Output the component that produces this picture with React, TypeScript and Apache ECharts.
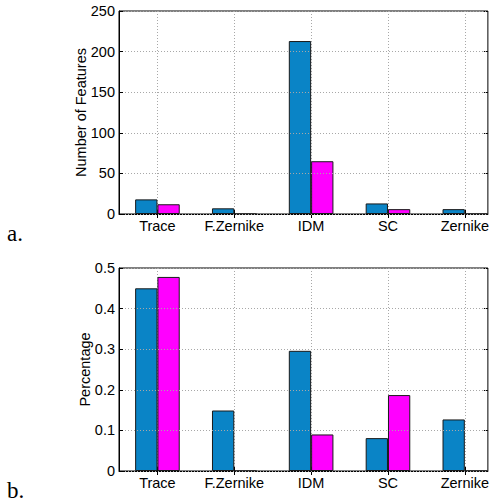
import React, { useEffect, useRef } from "react";
import * as echarts from "echarts";

const categories = ["Trace", "F.Zernike", "IDM", "SC", "Zernike"];
const countBlue = [18, 7, 213, 13, 6];
const countMagenta = [12, 0, 65, 6, 0];
const pctBlue = [0.45, 0.149, 0.296, 0.081, 0.127];
const pctMagenta = [0.478, 0, 0.09, 0.187, 0];
const catPositions = [1, 2, 3, 4, 5];
const panelLabels = ["a.", "b."];

const BLUE = "#0a84c6";
const MAGENTA = "#ff00ff";
const FONT = "'Liberation Sans', Arial, sans-serif";

function xy(vals: number[]) {
  return vals.map((v, i) => [catPositions[i], v]);
}

export default function App() {
  const ref = useRef<HTMLDivElement>(null);
  useEffect(() => {
    if (!ref.current) return;
    const chart = echarts.init(ref.current, null, { renderer: "svg" });
    const grid = (top: number) => ({
      left: 119,
      top,
      width: 372,
      height: 203,
      show: true,
      borderColor: "#000",
      borderWidth: 1,
      backgroundColor: "transparent",
    });
    const xMain = (gridIndex: number) => ({
      type: "value",
      gridIndex,
      min: 0.5,
      max: 5.3,
      position: "bottom",
      axisLine: { show: true, onZero: false, lineStyle: { color: "#000", width: 1 } },
      axisTick: { show: true, inside: true, length: 4, customValues: catPositions, lineStyle: { color: "#000" } },
      axisLabel: {
        show: true,
        customValues: catPositions,
        formatter: (v: number) => categories[Math.round(v) - 1] ?? "",
        color: "#000",
        fontFamily: FONT,
        fontSize: 14.5,
        margin: 4,
      },
      splitLine: { show: true, lineStyle: { color: "#a8a8a8", type: [1, 2], width: 1 } },
    });
    const xMirror = (gridIndex: number) => ({
      type: "value",
      gridIndex,
      min: 0.5,
      max: 5.3,
      position: "top",
      axisLine: { show: false },
      axisTick: { show: true, inside: true, length: 4, customValues: catPositions, lineStyle: { color: "#000" } },
      axisLabel: { show: false },
      splitLine: { show: false },
    });
    const yMain = (gridIndex: number, max: number, interval: number, name: string, nameGap: number) => ({
      type: "value",
      gridIndex,
      min: 0,
      max,
      interval,
      position: "left",
      name,
      nameLocation: "middle",
      nameGap,
      nameMoveOverlap: false,
      nameTextStyle: { color: "#000", fontFamily: FONT, fontSize: 14.5 },
      axisLine: { show: true, lineStyle: { color: "#000", width: 1 } },
      axisTick: { show: true, inside: true, length: 4, lineStyle: { color: "#000" } },
      axisLabel: { color: "#000", fontFamily: FONT, fontSize: 14.5, margin: 4 },
      splitLine: { show: true, lineStyle: { color: "#a8a8a8", type: [1, 2], width: 1 } },
      z: 3,
    });
    const yMirror = (gridIndex: number, max: number, interval: number) => ({
      type: "value",
      gridIndex,
      min: 0,
      max,
      interval,
      position: "right",
      axisLine: { show: false },
      axisTick: { show: true, inside: true, length: 4, lineStyle: { color: "#000" } },
      axisLabel: { show: false },
      splitLine: { show: false },
    });
    const bar = (data: number[], color: string, xi: number, yi: number) => ({
      type: "bar",
      xAxisIndex: xi,
      yAxisIndex: yi,
      data: xy(data),
      barWidth: 22.3,
      barGap: "0%",
      itemStyle: { color, borderColor: "#1a1a1a", borderWidth: 1 },
    });
    chart.setOption({
      animation: false,
      grid: [grid(11), grid(268)],
      xAxis: [xMain(0), xMirror(0), xMain(1), xMirror(1)],
      yAxis: [
        yMain(0, 250, 50, "Number of Features", 31),
        yMirror(0, 250, 50),
        yMain(1, 0.5, 0.1, "Percentage", 27),
        yMirror(1, 0.5, 0.1),
      ],
      series: [
        bar(countBlue, BLUE, 0, 0),
        bar(countMagenta, MAGENTA, 0, 0),
        bar(pctBlue, BLUE, 2, 2),
        bar(pctMagenta, MAGENTA, 2, 2),
      ],
      graphic: [
        {
          type: "text",
          left: 7,
          top: 222,
          style: { text: panelLabels[0], font: "23px 'Liberation Serif', 'Times New Roman', serif", fill: "#000" },
        },
        {
          type: "text",
          left: 7,
          top: 479,
          style: { text: panelLabels[1], font: "23px 'Liberation Serif', 'Times New Roman', serif", fill: "#000" },
        },
      ],
    });
    return () => chart.dispose();
  }, []);
  return (
    <div
      ref={ref}
      style={{ position: "absolute", left: 0, top: 0, width: 492, height: 504, background: "#fff" }}
    />
  );
}
